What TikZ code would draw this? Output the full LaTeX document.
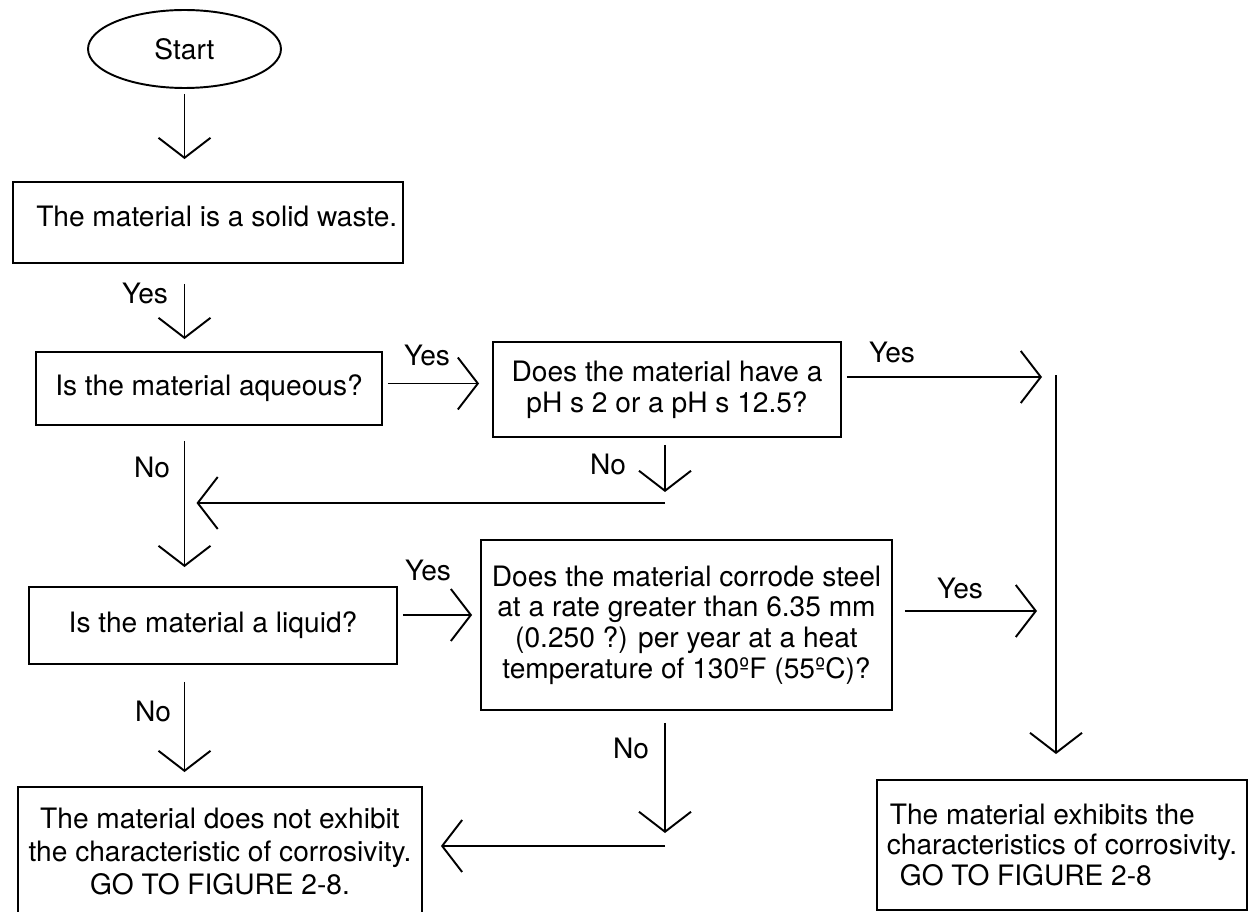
\documentclass[tikz,border=0pt]{standalone}
\usepackage{fontspec}
\setmainfont{TeX Gyre Heros}
\usetikzlibrary{arrows.meta,shapes.geometric,calc}

\begin{document}
\begin{tikzpicture}[x=0.02cm,y=-0.02cm,font=\fontsize{16pt}{17.5pt}\selectfont,line width=1.1pt,
    box/.style={draw,rectangle,inner sep=0pt,align=center},
    flow/.style={-{Straight Barb[length=0.4cm,width=1.04cm]}},
    lbl/.style={inner sep=0pt}]
  \useasboundingbox (0,0) rectangle (1248,912);
  % boxes
  \node[draw,ellipse,inner sep=0pt,minimum width=3.86cm,minimum height=1.56cm] (start) at (184.5,49) {Start};
  \node[box,minimum width=7.8cm,minimum height=1.62cm] (solid) at (208,222.5) {\hspace*{10pt}\raisebox{7pt}{The material is a solid waste.}};
  \node[box,minimum width=6.92cm,minimum height=1.46cm] (aqueous) at (209,388.5) {Is the material aqueous?};
  \node[box,minimum width=6.96cm,minimum height=1.9cm] (ph) at (667,389.5) {Does the material have a\\pH s 2 or a pH s 12.5?};
  \node[box,minimum width=7.36cm,minimum height=1.54cm] (liquid) at (213,625.5) {Is the material a liquid?};
  \node[box,minimum width=8.22cm,minimum height=3.4cm] (corrode) at (686.5,625) {Does the material corrode steel\\at a rate greater than 6.35 mm\\(0.250 ?) per year at a heat\\temperature of 130ºF (55ºC)?};
  \node[box,minimum width=8.08cm,minimum height=2.58cm,font=\fontsize{16pt}{18.5pt}\selectfont] (notcorr) at (220,851.5) {The material does not exhibit\\the characteristic of corrosivity.\\GO TO FIGURE 2-8.};
  \node[box,align=left,minimum width=7.4cm,minimum height=2.6cm] (corr) at (1062,845) {\hspace*{1.7pt}The material exhibits the\\characteristics of corrosivity.\\\hspace*{7.4pt}GO TO FIGURE 2-8};
  % labels
  \node[lbl] (yes1) at (145,293) {Yes};
  \node[lbl] (yes2) at (427,355) {Yes};
  \node[lbl] (yes3) at (892,352) {Yes};
  \node[lbl] (yes4) at (428,570) {Yes};
  \node[lbl] (yes5) at (960,588) {Yes};
  \node[lbl] (no1) at (152,467) {No};
  \node[lbl] (no2) at (608,464) {No};
  \node[lbl] (no3) at (153,711) {No};
  \node[lbl] (no4) at (631,748) {No};
  % joins
  \coordinate (phjoin) at (665,503);
  \coordinate (cjoin) at (665,846);
  \coordinate (rtop) at (1056,375);
  % down the left side
  \draw[flow] ($(start.south)+(0,5)$) -- ($(start.south |- solid.north)+(0,-22)$);
  \draw[flow] ($(solid.south -| start.south)+(0,20)$) -- ($(start.south |- aqueous.north)+(0,-12)$);
  \draw[flow] ($(aqueous.south -| start.south)+(0,15)$) -- ($(start.south |- liquid.north)+(0,-19)$);
  \draw[flow] ($(liquid.south -| start.south)+(0,17)$) -- ($(start.south |- notcorr.north)+(0,-14)$);
  % yes
  \draw[flow] ($(aqueous.east)+(5,-5)$) -- ($(ph.west)+(-13,-6)$);
  \draw[flow] ($(ph.east)+(5,-12.5)$) -- ($(rtop)+(-14,2)$);
  \draw[flow] (rtop) -- ($(rtop |- corr.north)+(0,-25)$);
  \draw[flow] ($(liquid.east)+(5,-10.5)$) -- ($(corrode.west)+(-8,-10)$);
  \draw[flow] ($(corrode.east)+(12,-14)$) -- ($(rtop |- corrode.east)+(-19,-14)$);
  % no
  \draw[flow] ($(ph.south -| phjoin)+(0,7)$) -- ($(phjoin)+(0,-11)$);
  \draw[flow] (phjoin) -- ($(phjoin -| start.south)+(12,0)$);
  \draw[flow] ($(corrode.south -| cjoin)+(0,12)$) -- ($(cjoin)+(0,-13)$);
  \draw[flow] (cjoin) -- ($(notcorr.east |- cjoin)+(18,0)$);
\end{tikzpicture}
\end{document}
